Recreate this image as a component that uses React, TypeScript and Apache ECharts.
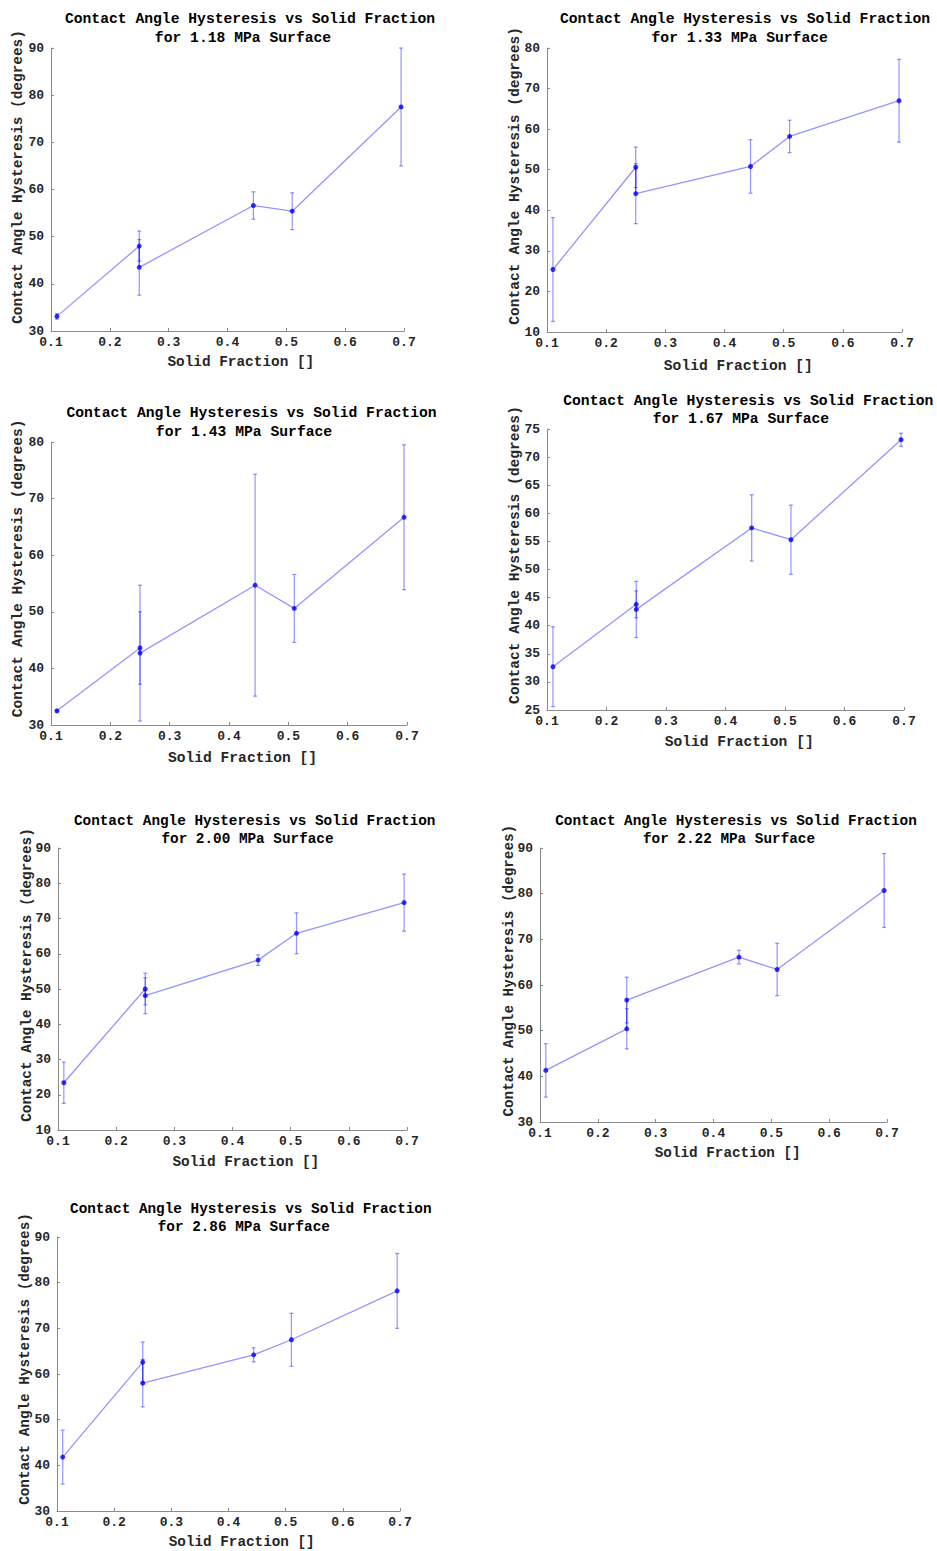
import { useEffect, useRef } from "react";
import * as echarts from "echarts";

// ---- data ----
const solidFraction = [0.11, 0.25, 0.25, 0.444, 0.51, 0.695];
const surfaceLabels = ["1.18", "1.33", "1.43", "1.67", "2.00", "2.22", "2.86"];

const cah118 = [33.1, 48.0, 43.5, 56.6, 55.4, 77.5];
const err118 = [0.6, 3.2, 5.9, 2.9, 3.9, 12.5];
const cah133 = [25.4, 50.6, 44.1, 50.8, 58.2, 67.0];
const err133 = [12.8, 5.0, 7.4, 6.6, 4.0, 10.2];
const cah143 = [32.5, 43.6, 42.7, 54.7, 50.6, 66.7];
const err143 = [0.2, 6.4, 12.0, 19.6, 6.0, 12.8];
const cah167 = [32.7, 43.8, 42.9, 57.4, 55.3, 73.1];
const err167 = [7.1, 2.4, 5.0, 5.9, 6.15, 1.15];
const cah200 = [23.4, 50.0, 48.1, 58.2, 65.8, 74.5];
const err200 = [5.85, 4.5, 5.1, 1.5, 5.8, 8.1];
const cah222 = [41.3, 50.4, 56.7, 66.1, 63.4, 80.7];
const err222 = [5.85, 4.4, 5.0, 1.5, 5.75, 8.1];
const cah286 = [41.8, 62.6, 58.0, 64.2, 67.5, 78.2];
const err286 = [5.9, 4.4, 5.2, 1.55, 5.8, 8.2];

const yMins = [30, 10, 30, 25, 10, 30, 30];
const yMaxs = [90, 80, 80, 75, 90, 90, 90];
const yIntervals = [10, 10, 10, 5, 10, 10, 10];

const xTickMin = 0.1;
const xTickMax = 0.7;
const xTickStep = 0.1;

const allValues = [cah118, cah133, cah143, cah167, cah200, cah222, cah286];
const allErrors = [err118, err133, err143, err167, err200, err222, err286];

// ---- layout (pixels) ----
const layouts = [
  { grid: [51, 48, 353, 283], t1: [250, 19.3], t2: [243, 38], tfs: 14.7, xn: [240.8, 362.3], yn: [18.3, 177], nfs: 14.4 },
  { grid: [547, 48, 355, 284], t1: [745, 19.3], t2: [739.7, 38], tfs: 14.7, xn: [738.3, 365.7], yn: [515, 175.8], nfs: 14.6 },
  { grid: [51, 442, 356, 283], t1: [251.5, 413.3], t2: [244, 432], tfs: 14.7, xn: [242.5, 757.7], yn: [18.3, 568.3], nfs: 14.6 },
  { grid: [547, 429, 357, 281], t1: [748.3, 400.7], t2: [741, 419.3], tfs: 14.7, xn: [739.2, 742.3], yn: [515, 555], nfs: 14.6 },
  { grid: [58, 848, 349, 282], t1: [254.7, 820.7], t2: [247.5, 839], tfs: 14.35, xn: [245.8, 1161.7], yn: [26.7, 975], nfs: 14.4 },
  { grid: [540, 848, 347, 274], t1: [736, 820.7], t2: [729, 839], tfs: 14.35, xn: [727.7, 1152.7], yn: [509, 970.7], nfs: 14.3 },
  { grid: [57, 1237, 343, 274], t1: [250.8, 1209], t2: [243.8, 1227.3], tfs: 14.35, xn: [241.7, 1542.3], yn: [25, 1359], nfs: 14.3 },
];

const FONT = '"Liberation Mono", "DejaVu Sans Mono", monospace';
const LINE_COLOR = "rgba(0,0,255,0.42)";
const AXIS_COLOR = "#8a8a8a";
const LABEL_COLOR = "#262626";

function buildOption() {
  const grid: any[] = [];
  const xAxis: any[] = [];
  const yAxis: any[] = [];
  const series: any[] = [];
  const graphic: any[] = [];

  layouts.forEach((L, i) => {
    grid.push({ left: L.grid[0], top: L.grid[1], width: L.grid[2], height: L.grid[3], containLabel: false });
    xAxis.push({
      type: "value",
      gridIndex: i,
      min: xTickMin,
      max: xTickMax,
      interval: xTickStep,
      splitLine: { show: false },
      axisLine: { show: true, lineStyle: { color: AXIS_COLOR, width: 1 } },
      axisTick: { show: true, inside: true, length: 3, lineStyle: { color: AXIS_COLOR } },
      axisLabel: {
        margin: 5,
        color: LABEL_COLOR,
        fontFamily: FONT,
        fontWeight: "bold",
        fontSize: 13,
        formatter: (v: number) => v.toFixed(1),
      },
    });
    yAxis.push({
      type: "value",
      gridIndex: i,
      min: yMins[i],
      max: yMaxs[i],
      interval: yIntervals[i],
      splitLine: { show: false },
      axisLine: { show: true, lineStyle: { color: AXIS_COLOR, width: 1 } },
      axisTick: { show: true, inside: true, length: 3, lineStyle: { color: AXIS_COLOR } },
      axisLabel: {
        margin: 7,
        color: LABEL_COLOR,
        fontFamily: FONT,
        fontWeight: "bold",
        fontSize: 13,
      },
    });

    const vals = allValues[i];
    const errs = allErrors[i];
    const pts = solidFraction.map((x, j) => [x, vals[j]]);
    const ebData = solidFraction.map((x, j) => [x, vals[j], errs[j]]);

    series.push({
      type: "line",
      xAxisIndex: i,
      yAxisIndex: i,
      data: pts,
      showSymbol: false,
      symbol: "none",
      lineStyle: { color: LINE_COLOR, width: 1.3 },
      z: 2,
    });
    series.push({
      type: "custom",
      xAxisIndex: i,
      yAxisIndex: i,
      data: ebData,
      encode: { x: 0, y: 1 },
      z: 3,
      renderItem: (_params: any, api: any) => {
        const x = api.value(0);
        const y = api.value(1);
        const e = api.value(2);
        const top = api.coord([x, y + e]);
        const bot = api.coord([x, y - e]);
        const hw = 2;
        const style = { stroke: LINE_COLOR, lineWidth: 1.2, fill: null };
        return {
          type: "group",
          children: [
            { type: "line", shape: { x1: top[0], y1: top[1], x2: bot[0], y2: bot[1] }, style },
            { type: "line", shape: { x1: top[0] - hw, y1: top[1], x2: top[0] + hw, y2: top[1] }, style },
            { type: "line", shape: { x1: bot[0] - hw, y1: bot[1], x2: bot[0] + hw, y2: bot[1] }, style },
          ],
        };
      },
    });
    series.push({
      type: "scatter",
      xAxisIndex: i,
      yAxisIndex: i,
      data: pts,
      symbol: "circle",
      symbolSize: 5,
      itemStyle: { color: "#0000ff" },
      z: 4,
    });

    graphic.push({
      type: "text",
      x: L.t1[0],
      y: L.t1[1],
      style: {
        text: "Contact Angle Hysteresis vs Solid Fraction",
        fontFamily: FONT,
        fontWeight: "bold",
        fontSize: L.tfs,
        fill: "#000",
        textAlign: "center",
        textVerticalAlign: "middle",
        align: "center",
        verticalAlign: "middle",
      },
    });
    graphic.push({
      type: "text",
      x: L.t2[0],
      y: L.t2[1],
      style: {
        text: `for ${surfaceLabels[i]} MPa Surface`,
        fontFamily: FONT,
        fontWeight: "bold",
        fontSize: L.tfs,
        fill: "#000",
        textAlign: "center",
        textVerticalAlign: "middle",
        align: "center",
        verticalAlign: "middle",
      },
    });
    graphic.push({
      type: "text",
      x: L.xn[0],
      y: L.xn[1],
      style: {
        text: "Solid Fraction []",
        fontFamily: FONT,
        fontWeight: "bold",
        fontSize: L.nfs,
        fill: LABEL_COLOR,
        textAlign: "center",
        textVerticalAlign: "middle",
        align: "center",
        verticalAlign: "middle",
      },
    });
    graphic.push({
      type: "text",
      x: L.yn[0],
      y: L.yn[1],
      rotation: Math.PI / 2,
      style: {
        text: "Contact Angle Hysteresis (degrees)",
        fontFamily: FONT,
        fontWeight: "bold",
        fontSize: L.nfs,
        fill: LABEL_COLOR,
        textAlign: "center",
        textVerticalAlign: "middle",
        align: "center",
        verticalAlign: "middle",
      },
    });
  });

  return {
    animation: false,
    backgroundColor: "#ffffff",
    grid,
    xAxis,
    yAxis,
    series,
    graphic,
  };
}

export default function App() {
  const ref = useRef<HTMLDivElement>(null);
  useEffect(() => {
    if (!ref.current) return;
    const chart = echarts.init(ref.current, undefined, { renderer: "svg" });
    chart.setOption(buildOption() as any);
    return () => chart.dispose();
  }, []);
  return (
    <div
      ref={ref}
      style={{ position: "absolute", left: 0, top: 0, width: 937, height: 1551, background: "#fff" }}
    />
  );
}
